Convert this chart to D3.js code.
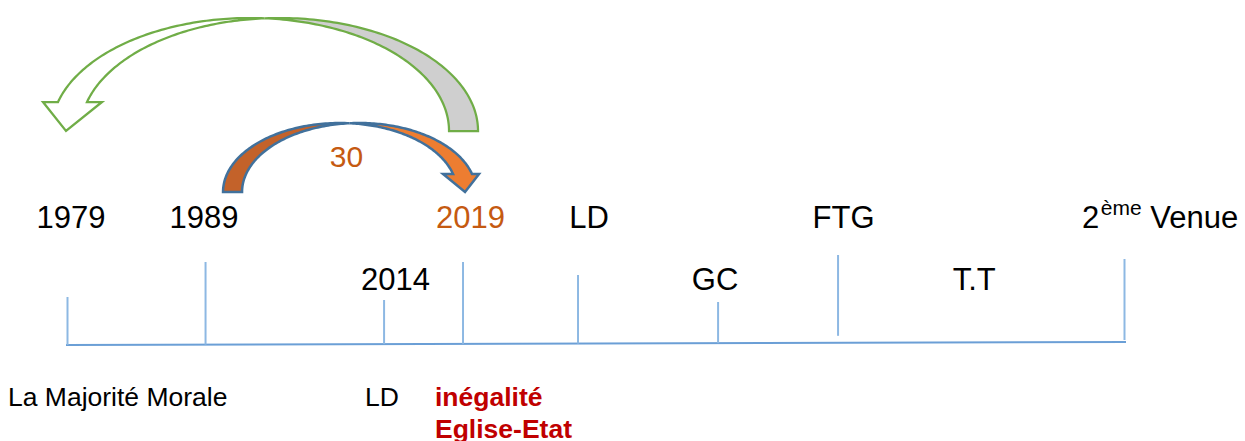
<!DOCTYPE html>
<html><head><meta charset="utf-8">
<script src="https://cdn.jsdelivr.net/npm/d3@7"></script>
<style>html,body{margin:0;padding:0;background:#fff;} svg{display:block;font-family:"Liberation Sans",Arial,sans-serif;}</style>
</head><body><svg id="c" width="1245" height="441"></svg>
<script>
// ---- data ----
const events = ["1979","1989","2014","2019","LD","GC","FTG","2ème Venue"];
const eventPos = [0, 13.06, 29.95, 37.42, 48.3, 61.55, 72.9, 100]; // position along the timeline (0-100)
const topLabels = ["1979","1989","2019","LD","FTG"];
const topLabelEvents = ["1979","1989","2019","LD","FTG"];
const midLabels = ["2014","GC","T.T"];
const bottomLabels = ["La Majorité Morale","LD"];
const highlightLines = ["inégalité","Eglise-Etat"];
const arrows = [
  {from:"2019", to:"1979", label:null},
  {from:"1989", to:"2019", label:"30"}
];

// ---- layout ----
const svg = d3.select("#c");
const x = d3.scaleLinear().domain([0,100]).range([67.5,1124.5]);
const posOf = k => eventPos[events.indexOf(k)];
const baseY = d3.scaleLinear().domain([0,100]).range([345,342]);
const tickTop = [297,262,300,262,275,302,255,259];
const tickBottomGap = [0,0,0,0,0,0,7,2];
const topDx = [3.5,-1.5,7.5,11,5.5];
const midX = [x(posOf("2014"))+11.5, x(posOf("GC"))-3, (x(posOf("FTG"))+x(100))/2-7];

// timeline baseline
svg.append("path")
  .attr("d", d3.line()([[x(0)-1.5, baseY(0)],[x(100)+1.5, baseY(100)]]))
  .attr("stroke","#6B9FD6").attr("stroke-width",2).attr("fill","none");

// ticks
svg.selectAll("line.tick").data(events).join("line").attr("class","tick")
  .attr("x1",(d,i)=>x(eventPos[i])).attr("x2",(d,i)=>x(eventPos[i]))
  .attr("y1",(d,i)=>tickTop[i]).attr("y2",(d,i)=>baseY(eventPos[i])-tickBottomGap[i])
  .attr("stroke","#8DB8E3").attr("stroke-width",2);

// top row labels
svg.selectAll("text.top").data(topLabels).join("text").attr("class","top")
  .attr("x",(d,i)=>x(posOf(topLabelEvents[i]))+topDx[i]).attr("y",228)
  .attr("text-anchor","middle").attr("font-size",31)
  .attr("fill",d=>d==="2019"?"#C55A11":"#000").text(d=>d);

// 2ème Venue with superscript
const venue = ["2","ème","Venue"];
const vt = svg.append("text").attr("x",x(100)-42.5).attr("y",228).attr("font-size",31).attr("fill","#000");
vt.append("tspan").text(venue[0]);
vt.append("tspan").attr("font-size",21).attr("dy",-13).attr("dx",1.5).text(venue[1]);
vt.append("tspan").attr("dy",13).text("\u00a0"+venue[2]);

// middle row labels
svg.selectAll("text.mid").data(midLabels).join("text").attr("class","mid")
  .attr("x",(d,i)=>midX[i]).attr("y",290).attr("text-anchor","middle")
  .attr("font-size",31).attr("fill","#000").text(d=>d);

// bottom labels
const bottomX = [8, 365];
svg.selectAll("text.bot").data(bottomLabels).join("text").attr("class","bot")
  .attr("x",(d,i)=>bottomX[i]).attr("y",406).attr("font-size",26.5).attr("fill","#000").text(d=>d);
svg.selectAll("text.hl").data(highlightLines).join("text").attr("class","hl")
  .attr("x",435).attr("y",(d,i)=>406+i*32).attr("font-size",26.5).attr("font-weight","bold")
  .attr("fill","#C00000").text(d=>d);

// ---- curved arrows ----
function ellipsePts(cx, cy, rx, ry, t0, t1, n=80){
  return d3.range(n+1).map(i=>{const t=t0+(t1-t0)*i/n; return [cx+rx*Math.cos(t), cy-ry*Math.sin(t)];});
}
function arrowShapes(a){
  const {xt, xh, w, y0, ytop, yh, eL, eR, tipX, tipY} = a;
  const dir = Math.sign(xh-xt);
  const ry = y0-ytop;
  const th = Math.asin((y0-yh)/ry);
  const s = Math.cos(th);
  const rx = Math.abs(xh-xt)/(1+s);
  const tTail = dir>0?Math.PI:0, tHead = dir>0?th:Math.PI-th;
  const E = o => ({cx:xt+o+dir*rx, tc:Math.acos(-o/rx)});
  const e1 = E(-w/2), e2 = E(w/2);
  const back = ellipsePts(e1.cx,y0,rx,ry,tTail,e1.tc).concat(ellipsePts(e2.cx,y0,rx,ry,e2.tc,tTail));
  const front = ellipsePts(e1.cx,y0,rx,ry,e1.tc,tHead)
    .concat([[xh-w/2-eL,yh],[tipX,tipY],[xh+w/2+eR,yh]])
    .concat(ellipsePts(e2.cx,y0,rx,ry,tHead,e2.tc));
  return {back, front};
}
const arrowStyle = [
  {tailDx:0.5, headDx:5, w:29, y0:131, ytop:18, yh:102, eL:15, eR:15, tipDx:-1.5,
   back:"#CFCFCF", front:"#FFFFFF", stroke:"#70AD47", sw:2.25},
  {tailDx:27, headDx:-0.5, w:19, y0:192, ytop:123, yh:174, eL:10, eR:7, tipDx:2,
   back:"#C3622A", front:"#ED7D31", stroke:"#41719C", sw:2.5}
];
const closed = d3.line().curve(d3.curveLinearClosed);
arrows.forEach((a,i)=>{
  const st = arrowStyle[i];
  const xt = x(posOf(a.from))+st.tailDx, xh = x(posOf(a.to))+st.headDx;
  const sh = arrowShapes({xt, xh, w:st.w, y0:st.y0, ytop:st.ytop, yh:st.yh, eL:st.eL, eR:st.eR,
    tipX:x(posOf(a.to))+st.tipDx, tipY:st.y0});
  const g = svg.append("g");
  g.append("path").attr("d",closed(sh.back)).attr("fill",st.back).attr("stroke",st.stroke)
    .attr("stroke-width",st.sw).attr("stroke-linejoin","miter");
  g.append("path").attr("d",closed(sh.front)).attr("fill",st.front).attr("stroke",st.stroke)
    .attr("stroke-width",st.sw).attr("stroke-linejoin","miter");
  if(a.label){
    g.append("text").attr("x",(xt+xh)/2-1).attr("y",167).attr("text-anchor","middle")
      .attr("font-size",30).attr("fill","#C55A11").text(a.label);
  }
});
</script>
</body></html>
